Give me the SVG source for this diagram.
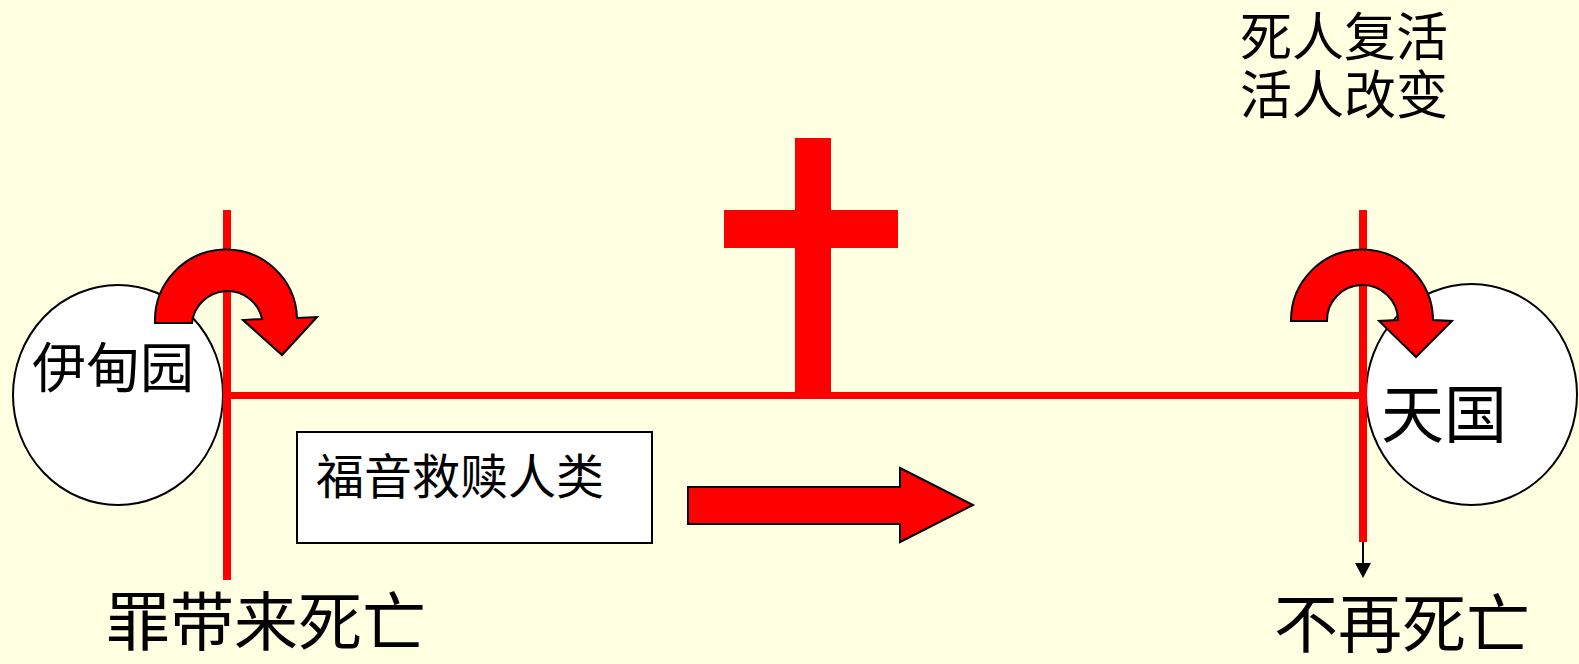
<svg xmlns="http://www.w3.org/2000/svg" width="1579" height="664" viewBox="0 0 1579 664">
<style>
.bg{fill:#FFFFE1}
.circ{fill:#FFFFFF;stroke:#000;stroke-width:2}
.red{stroke:#FF0000;fill:none}
.shape{fill:#FF0000;stroke:#000;stroke-width:2;stroke-linejoin:miter}
.t{font-family:"Noto Sans CJK SC","Noto Sans CJK TC",sans-serif;fill:#000}
</style>
<rect class="bg" x="0" y="0" width="1579" height="664"/>
<g id="eden">
<ellipse class="circ" cx="118" cy="395" rx="105" ry="110"/>
<text class="t" x="32" y="388" font-size="54">伊甸园</text>
</g>
<g id="heaven">
<ellipse class="circ" cx="1471.5" cy="394.5" rx="105.5" ry="110.5"/>
<text class="t" x="1381" y="437" font-size="63">天国</text>
</g>
<g id="connectors">
<line class="red" x1="227" y1="210" x2="227" y2="580" stroke-width="8"/>
<line class="red" x1="1363" y1="210" x2="1363" y2="542" stroke-width="8"/>
<line class="red" x1="227" y1="395.5" x2="1363" y2="395.5" stroke-width="7"/>
<line x1="1363" y1="542" x2="1363" y2="565" stroke="#000" stroke-width="2"/>
<polygon points="1355,563 1371,563 1363,578" fill="#000"/>
</g>
<g id="cross">
<rect x="795" y="138" width="36" height="256" fill="#FF0000"/>
<rect x="724" y="210" width="174" height="38" fill="#FF0000"/>
</g>
<g id="turn-left">
<path class="shape" d="M 155 323 A 71 71 0 0 1 297 318 L 317 317 L 282 355 L 243 320 L 262 319 A 35.5 35.5 0 0 0 192 323 Z"/>
</g>
<g id="turn-right">
<path class="shape" d="M 1291 321 A 71 71 0 0 1 1433 320 L 1452 321 L 1416 357 L 1379 321 L 1398 320 A 35.5 35.5 0 0 0 1327 321 Z"/>
</g>
<g id="gospel">
<rect x="297" y="432" width="355" height="111" fill="#FFFFFF" stroke="#000" stroke-width="2"/>
<text class="t" x="316" y="494" font-size="48">福音救赎人类</text>
</g>
<g id="big-arrow">
<polygon class="shape" points="688,487 900,487 900,468 973,505 900,542 900,524 688,524"/>
</g>
<g id="labels">
<text class="t" x="106" y="645" font-size="64">罪带来死亡</text>
<text class="t" x="1274" y="647" font-size="64">不再死亡</text>
<text class="t" x="1240" y="56" font-size="52">死人复活</text>
<text class="t" x="1240" y="114" font-size="52">活人改变</text>
</g>
</svg>
